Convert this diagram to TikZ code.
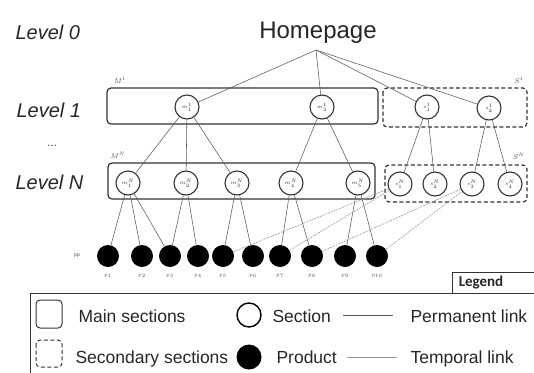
\documentclass[tikz,border=0pt]{standalone}
\usepackage{fontspec}
\setmainfont{Liberation Sans}
\newfontfamily\calib{Carlito}
\begin{document}
\begin{tikzpicture}[x=1pt,y=-1pt,
  box/.style={draw=black!80, line width=1.2pt, rounded corners=4pt},
  sbox/.style={draw=black!80, line width=1.2pt, rounded corners=4pt, dash pattern=on 4pt off 2.5pt},
  sec/.style={circle, draw=black!80, line width=1.1pt, minimum size=24pt, inner sep=0pt, font=\tiny, text=black!85},
  prod/.style={circle, fill=black, minimum size=22pt, inner sep=0pt},
  perm/.style={draw=black!65, line width=0.55pt},
  temp/.style={draw=black!40, line width=0.6pt, dash pattern=on 2pt off 1pt},
  lvl/.style={font=\fontsize{20}{24}\selectfont\itshape, anchor=base west, text=black!85},
  leg/.style={font=\fontsize{17.5}{20}\selectfont, anchor=base west, text=black!85},
  tl/.style={font=\tiny, text=black!70, inner sep=0pt}
]
\useasboundingbox (0,0) rectangle (534,372);
\clip (0,0) rectangle (534,372);

% level labels
\node[lvl] (l0) at (12,39) {Level 0};
\node[lvl] (l1) at (13,117) {Level 1};
\node[font=\fontsize{12}{14}\selectfont, text=black!70] (dots) at (52,146) {...};
\node[lvl] (lN) at (12,189) {Level N};

% homepage
\node[font=\fontsize{24}{28}\selectfont, anchor=base, text=black!85] (home) at (318,38) {Homepage};
\coordinate (hp) at (316,50);

% boxes
\draw[box] (107,88) rectangle (378,124);
\draw[sbox] (383,88) rectangle (527,127);
\draw[box] (108,163) rectangle (375,199);
\draw[sbox] (385,165) rectangle (527,202);

\node[tl, font=\scriptsize] (bM1) at (120,80) {$M^{1}$};
\node[tl, font=\scriptsize] (bS1) at (519,80) {$S^{1}$};
\node[tl, font=\scriptsize] (bMN) at (118,155) {$M^{N}$};
\node[tl, font=\scriptsize] (bSN) at (519,156) {$S^{N}$};

% level 1 sections
\node[sec] (m11) at (187,107) {$m^1_1$};
\node[sec] (m21) at (322,107) {$m^1_2$};
\node[sec] (s11) at (427,107) {$s^1_1$};
\node[sec] (s21) at (489,108) {$s^1_2$};

% level N sections
\node[sec] (m1N) at (128,183) {$m^N_1$};
\node[sec] (m2N) at (186,183) {$m^N_2$};
\node[sec] (m3N) at (237,183) {$m^N_3$};
\node[sec] (m4N) at (291,183) {$m^N_4$};
\node[sec] (m5N) at (358,183) {$m^N_5$};
\node[sec] (s1N) at (400,184) {$s^N_1$};
\node[sec] (s2N) at (435,184) {$s^N_2$};
\node[sec] (s3N) at (472,184) {$s^N_3$};
\node[sec] (s4N) at (510,184) {$s^N_4$};

% products
\node[tl] (pp) at (77,256) {pp};
\foreach \i/\x in {1/108,2/142,3/170,4/198,5/223,6/253,7/280,8/312,9/345,10/377}{
  \node[prod] (p\i) at (\x,256) {};
  \node[tl] (pl\i) at (\x,276) {$p_{\i}$};
}

% homepage links
\draw[perm] (hp) -- (m11);
\draw[perm] (hp) -- (m21);
\draw[perm] (hp) -- (s11);
\draw[perm] (hp) -- (s21);

% level 1 -> level N
\draw[perm] (m11) -- (m1N);
\draw[perm] (m11) -- (m2N);
\draw[perm] (m11) -- (m3N);
\draw[perm] (m21) -- (m4N);
\draw[perm] (m21) -- (m5N);
\draw[perm] (s11) -- (s1N);
\draw[perm] (s11) -- (s2N);
\draw[perm] (s21) -- (s3N);
\draw[perm] (s21) -- (s4N);

% level N -> products
\draw[perm] (m1N) -- (p1);
\draw[perm] (m1N) -- (p2);
\draw[perm] (m1N) -- (p3);
\draw[perm] (m2N) -- (p3);
\draw[perm] (m2N) -- (p4);
\draw[perm] (m3N) -- (p5);
\draw[perm] (m3N) -- (p6);
\draw[perm] (m4N) -- (p7);
\draw[perm] (m4N) -- (p8);
\draw[perm] (m5N) -- (p9);
\draw[perm] (m5N) -- (p10);

% temporal links
\draw[temp] (s1N) -- (p5);
\draw[temp] (s1N) -- (p7);
\draw[temp] (s3N) -- (p8);
\draw[temp] (s3N) -- (p10);

% legend
\draw[draw=black!80, line width=1pt] (452,272) rectangle (540,293);
\node[font=\calib\bfseries\fontsize{15}{18}\selectfont, text=black!85] (legt) at (481,283) {Legend};
\draw[draw=black!80, line width=1pt] (30,293) rectangle (540,380);

\draw[box, line width=1pt] (36,300) rectangle (62,328);
\node[leg] (lg1) at (75,322) {Main sections};
\draw[sbox, line width=1pt] (36,340) rectangle (62,367);
\node[leg] (lg2) at (72,363) {Secondary sections};

\node[circle, draw=black, line width=1.4pt, minimum size=24pt, inner sep=0pt] (lsec) at (249,315) {};
\node[leg] (lg3) at (269,322) {Section};
\node[prod, minimum size=25pt] (lprod) at (249,357) {};
\node[leg] (lg4) at (273,363) {Product};

\coordinate (pa) at (343,315);
\coordinate (pb) at (393,315);
\draw[perm, line width=0.6pt] (pa) -- (pb);
\node[leg] (lg5) at (407,322) {Permanent link};
\coordinate (ta) at (347,357);
\coordinate (tb) at (397,357);
\draw[draw=black!40, line width=0.6pt] (ta) -- (tb);
\node[leg] (lg6) at (407,363) {Temporal link};
\end{tikzpicture}
\end{document}
